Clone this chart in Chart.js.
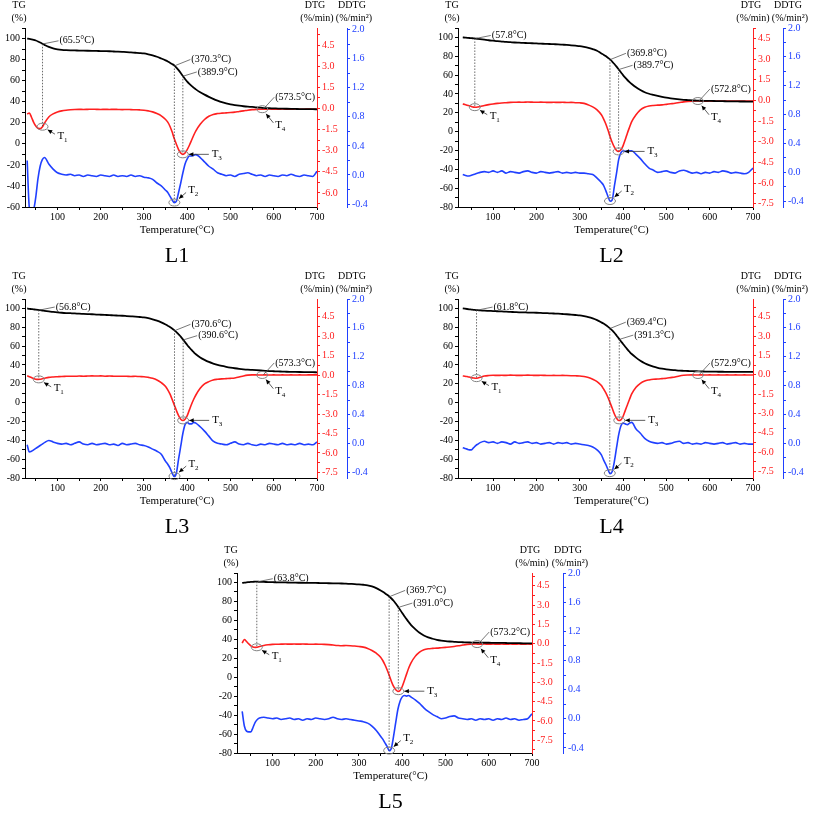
<!DOCTYPE html>
<html>
<head>
<meta charset="utf-8">
<script src="https://cdn.jsdelivr.net/npm/chart.js@4.4.0/dist/chart.umd.min.js"></script>
<style>
  body { margin: 0; background: #fff; }
  #page { position: relative; width: 813px; height: 814px; overflow: hidden; }
  #page canvas { position: absolute; }
</style>
</head>
<body>
<div id="page"></div>
<script>
// shared temperature grid (°C)
const temps = [
  30, 35, 40, 45, 50, 55, 60, 65, 70,
  80, 90, 100, 110, 120, 130, 140, 150, 160, 170, 180, 190, 200, 210,
  220, 230, 240, 250, 260, 270, 280, 290, 300, 310, 320, 330, 340,
  350, 355, 360, 365, 370, 375, 380, 385, 390, 395, 400, 405, 410, 415, 420,
  430, 440, 450, 460, 470, 480, 490, 500, 510, 520, 530, 540, 550, 560,
  570, 580, 590, 600, 610, 620, 630, 640, 650, 660, 670, 680, 690, 700,
];

// L1
const tgL1 = [
  100, 99.7, 99.3, 98.8, 98.1, 97.2, 96.2, 95.1, 94.0,
  92.0, 90.6, 89.8, 89.3, 89.0, 88.8, 88.7, 88.6, 88.5, 88.4, 88.3, 88.2, 88.1, 88.0,
  87.9, 87.7, 87.5, 87.3, 87.1, 86.8, 86.5, 86.2, 85.8, 85.0, 84.0, 82.7, 81.0,
  79.2, 78.2, 77.0, 75.8, 74.5, 72.4, 70.0, 67.3, 64.4, 61.6, 59.0, 56.9, 55.0, 53.3, 51.7,
  49.0, 46.7, 44.6, 42.7, 41.0, 39.5, 38.4, 37.5, 36.8, 36.2, 35.7, 35.3, 35.0, 34.6,
  34.3, 34.0, 33.8, 33.7, 33.5, 33.4, 33.3, 33.2, 33.1, 33.0, 33.0, 32.9, 32.9, 32.8,
];
const dtgL1 = [
  -0.4, -0.32, -0.62, -0.98, -1.25, -1.4, -1.43, -1.32, -1.05,
  -0.6, -0.38, -0.25, -0.17, -0.12, -0.09, -0.07, -0.06, -0.07, -0.06, -0.05, -0.06, -0.07, -0.06,
  -0.07, -0.06, -0.07, -0.08, -0.07, -0.08, -0.09, -0.1, -0.12, -0.17, -0.24, -0.36, -0.52,
  -0.78, -0.97, -1.26, -1.66, -2.14, -2.54, -2.92, -3.16, -3.26, -3.16, -2.92, -2.61, -2.26, -1.9, -1.59,
  -1.12, -0.78, -0.55, -0.42, -0.36, -0.33, -0.31, -0.29, -0.26, -0.21, -0.17, -0.12, -0.08, -0.06,
  -0.05, -0.05, -0.04, -0.05, -0.05, -0.04, -0.05, -0.05, -0.04, -0.05, -0.05, -0.04, -0.05, -0.05,
];
const ddtgL1 = [
  0.2, -0.45, -0.52, -0.48, -0.3, -0.05, 0.12, 0.21, 0.24,
  0.15, 0.08, 0.03, 0.01, 0.0, 0.01, -0.01, 0.0, -0.02, 0.0, -0.01, -0.02, 0.0, -0.01,
  -0.02, 0.0, -0.02, -0.01, -0.02, 0.0, -0.02, -0.01, -0.03, -0.04, -0.06, -0.11, -0.15,
  -0.21, -0.24, -0.29, -0.34, -0.38, -0.36, -0.24, -0.11, 0.03, 0.15, 0.22, 0.26, 0.26, 0.27, 0.28,
  0.24, 0.18, 0.12, 0.08, 0.03, 0.01, -0.01, 0.0, -0.02, 0.01, 0.02, 0.03, 0.01, -0.01,
  0.0, -0.02, 0.0, -0.01, -0.02, 0.0, -0.01, 0.01, -0.01, -0.02, 0.0, -0.01, -0.02, 0.05,
];
const marksL1 = [65.5, 370.3, 389.9, 573.5];

// L2
const tgL2 = [
  100, 99.8, 99.6, 99.4, 99.2, 99.0, 98.8, 98.5, 98.2,
  97.6, 97.0, 96.5, 96.0, 95.6, 95.2, 94.9, 94.6, 94.4, 94.2, 94.0, 93.8, 93.6, 93.4,
  93.2, 93.0, 92.8, 92.6, 92.3, 92.0, 91.6, 91.2, 90.8, 90.0, 89.0, 87.6, 85.9,
  83.0, 81.7, 80.2, 78.5, 76.7, 74.3, 71.8, 69.0, 66.0, 63.0, 60.0, 57.3, 54.8, 52.6, 50.6,
  47.0, 44.2, 41.8, 40.2, 39.0, 37.9, 36.9, 36.0, 35.3, 34.7, 34.2, 33.8, 33.5, 33.2,
  33.0, 32.8, 32.7, 32.6, 32.5, 32.4, 32.3, 32.2, 32.1, 32.1, 32.0, 32.0, 31.9, 31.9,
];
const dtgL2 = [
  -0.26, -0.3, -0.35, -0.4, -0.45, -0.49, -0.5, -0.48, -0.45,
  -0.37, -0.31, -0.26, -0.22, -0.19, -0.17, -0.15, -0.14, -0.13, -0.14, -0.12, -0.13, -0.14, -0.13,
  -0.14, -0.15, -0.14, -0.15, -0.14, -0.16, -0.15, -0.17, -0.18, -0.22, -0.33, -0.47, -0.69,
  -1.05, -1.34, -1.7, -2.14, -2.62, -3.06, -3.4, -3.64, -3.71, -3.59, -3.3, -2.86, -2.38, -1.95, -1.54,
  -1.05, -0.69, -0.5, -0.41, -0.37, -0.35, -0.33, -0.29, -0.25, -0.21, -0.16, -0.11, -0.08, -0.06,
  -0.05, -0.05, -0.06, -0.05, -0.06, -0.05, -0.06, -0.05, -0.06, -0.05, -0.05, -0.06, -0.05, -0.05,
];
const ddtgL2 = [
  -0.03, -0.04, -0.05, -0.05, -0.04, -0.03, -0.02, -0.01, 0.0,
  0.01, 0.0, 0.02, 0.0, 0.02, -0.01, 0.01, 0.0, -0.01, 0.01, 0.02, 0.0, -0.01, 0.01,
  0.0, -0.01, 0.0, 0.01, -0.01, 0.0, -0.01, 0.0, -0.01, -0.01, -0.02, -0.03, -0.08,
  -0.14, -0.18, -0.25, -0.33, -0.4, -0.38, -0.19, -0.01, 0.18, 0.27, 0.3, 0.29, 0.29, 0.3, 0.3,
  0.25, 0.19, 0.12, 0.06, 0.03, 0.0, 0.01, 0.02, 0.0, -0.01, 0.02, 0.03, 0.01, -0.01,
  0.0, -0.02, 0.0, -0.01, 0.01, 0.0, 0.02, 0.01, -0.01, 0.0, -0.01, -0.02, 0.0, 0.06,
];
const marksL2 = [57.8, 369.8, 389.7, 572.8];

// L3
const tgL3 = [
  100, 99.6, 99.3, 99.0, 98.7, 98.4, 98.1, 97.8, 97.5,
  96.9, 96.3, 95.8, 95.4, 95.1, 94.9, 94.7, 94.4, 94.2, 94.0, 93.8, 93.5, 93.3, 93.1,
  92.9, 92.6, 92.4, 92.2, 91.9, 91.6, 91.3, 90.9, 90.5, 89.6, 88.4, 87.0, 85.2,
  83.0, 81.7, 80.2, 78.7, 77.0, 74.9, 72.5, 70.0, 67.2, 64.2, 61.2, 58.5, 55.9, 53.5, 51.3,
  48.0, 45.4, 43.2, 41.5, 40.0, 38.9, 38.0, 37.2, 36.5, 35.9, 35.4, 35.0, 34.7, 34.4,
  34.1, 33.8, 33.5, 33.3, 33.1, 33.0, 32.8, 32.7, 32.6, 32.5, 32.4, 32.3, 32.3, 32.2,
];
const dtgL3 = [
  -0.05, -0.12, -0.19, -0.26, -0.31, -0.33, -0.32, -0.28, -0.24,
  -0.17, -0.14, -0.12, -0.1, -0.09, -0.08, -0.09, -0.07, -0.08, -0.07, -0.06, -0.07, -0.06, -0.08,
  -0.07, -0.08, -0.09, -0.08, -0.09, -0.1, -0.09, -0.11, -0.12, -0.17, -0.24, -0.37, -0.58,
  -0.88, -1.14, -1.45, -1.86, -2.29, -2.73, -3.12, -3.4, -3.5, -3.4, -3.12, -2.68, -2.24, -1.86, -1.53,
  -1.01, -0.68, -0.5, -0.37, -0.32, -0.29, -0.27, -0.25, -0.22, -0.15, -0.06, 0.0, 0.02, 0.02,
  0.01, 0.02, 0.01, 0.02, 0.01, 0.02, 0.01, 0.02, 0.01, 0.02, 0.01, 0.02, 0.02, 0.02,
];
const ddtgL3 = [
  -0.02, -0.12, -0.11, -0.09, -0.07, -0.05, -0.03, -0.01, 0.01,
  0.04, 0.02, 0.0, -0.01, 0.0, -0.02, 0.0, 0.02, -0.01, -0.02, 0.0, -0.02, -0.01, 0.0,
  -0.02, -0.01, -0.03, 0.0, -0.02, -0.01, 0.0, -0.02, -0.03, -0.05, -0.08, -0.11, -0.15,
  -0.25, -0.29, -0.34, -0.41, -0.46, -0.41, -0.22, -0.04, 0.14, 0.26, 0.29, 0.27, 0.27, 0.29, 0.28,
  0.23, 0.17, 0.1, 0.03, 0.0, -0.01, -0.02, 0.0, 0.02, -0.01, -0.02, 0.0, -0.02, -0.03,
  -0.01, -0.02, 0.0, -0.01, -0.02, 0.0, -0.02, -0.01, -0.02, 0.0, -0.02, -0.01, -0.02, 0.02,
];
const marksL3 = [56.8, 370.6, 390.6, 573.3];

// L4
const tgL4 = [
  100, 99.7, 99.4, 99.1, 98.8, 98.5, 98.3, 98.1, 97.9,
  97.6, 97.4, 97.2, 97.0, 96.8, 96.5, 96.3, 96.1, 95.9, 95.8, 95.6, 95.5, 95.4, 95.2,
  95.0, 94.8, 94.6, 94.4, 94.1, 93.8, 93.4, 93.0, 92.6, 91.8, 90.8, 89.4, 87.6,
  85.2, 83.9, 82.4, 80.7, 78.8, 76.6, 74.2, 71.3, 68.2, 65.2, 62.2, 59.3, 56.6, 54.0, 51.6,
  47.8, 44.5, 41.8, 39.8, 38.2, 37.0, 36.1, 35.4, 34.8, 34.4, 34.0, 33.8, 33.6, 33.4,
  33.3, 33.1, 33.0, 32.9, 32.9, 32.8, 32.8, 32.7, 32.7, 32.7, 32.6, 32.6, 32.6, 32.6,
];
const dtgL4 = [
  -0.09, -0.11, -0.14, -0.18, -0.22, -0.25, -0.27, -0.25, -0.2,
  -0.1, -0.06, -0.04, -0.05, -0.04, -0.05, -0.03, -0.04, -0.05, -0.04, -0.03, -0.04, -0.05, -0.04,
  -0.05, -0.06, -0.05, -0.06, -0.05, -0.06, -0.07, -0.08, -0.09, -0.14, -0.22, -0.35, -0.53,
  -0.84, -1.1, -1.38, -1.74, -2.16, -2.6, -3.04, -3.37, -3.55, -3.5, -3.24, -2.78, -2.34, -1.9, -1.49,
  -0.97, -0.66, -0.48, -0.4, -0.35, -0.33, -0.3, -0.27, -0.22, -0.17, -0.09, -0.04, -0.02, -0.01,
  -0.02, -0.01, -0.02, -0.01, -0.02, -0.01, -0.02, -0.01, -0.02, -0.01, -0.02, -0.01, -0.02, -0.02,
];
const ddtgL4 = [
  -0.06, -0.07, -0.08, -0.09, -0.09, -0.06, -0.03, -0.01, 0.01,
  0.03, 0.01, 0.02, 0.0, 0.02, 0.01, -0.01, 0.02, 0.0, 0.01, 0.02, 0.0, 0.01, -0.01,
  0.0, 0.01, -0.01, 0.01, 0.0, 0.01, -0.01, 0.0, -0.01, -0.02, -0.03, -0.05, -0.09,
  -0.16, -0.23, -0.29, -0.36, -0.42, -0.39, -0.25, -0.06, 0.12, 0.24, 0.28, 0.27, 0.26, 0.28, 0.29,
  0.2, 0.14, 0.07, 0.03, 0.01, 0.0, 0.01, -0.01, 0.0, 0.02, 0.03, 0.0, 0.01, -0.01,
  0.0, -0.01, 0.01, 0.0, -0.01, 0.0, 0.01, -0.01, 0.0, 0.01, -0.01, 0.0, -0.01, -0.01,
];
const marksL4 = [61.8, 369.4, 391.3, 572.9];

// L5
const tgL5 = [
  99.5, 99.9, 100.2, 100.4, 100.6, 100.7, 100.8, 100.8, 100.7,
  100.6, 100.4, 100.3, 100.2, 100.1, 100.0, 99.9, 99.8, 99.7, 99.7, 99.6, 99.5, 99.5, 99.4,
  99.3, 99.2, 99.1, 99.0, 98.9, 98.7, 98.5, 98.3, 98.0, 97.6, 97.0, 95.8, 94.0,
  91.6, 90.2, 88.7, 87.0, 85.2, 83.1, 80.7, 77.8, 74.7, 71.2, 67.7, 64.4, 61.3, 58.2, 55.3,
  50.8, 46.9, 44.1, 42.0, 40.6, 39.5, 38.7, 38.1, 37.7, 37.4, 37.1, 36.9, 36.7, 36.6,
  36.5, 36.5, 36.4, 36.4, 36.3, 36.2, 36.2, 36.1, 36.0, 36.0, 35.9, 35.8, 35.8, 35.7,
];
const dtgL5 = [
  0.05, 0.33, 0.18, 0.0, -0.16, -0.26, -0.28, -0.27, -0.21,
  -0.13, -0.08, -0.05, -0.04, -0.03, -0.02, -0.03, -0.02, -0.03, -0.02, -0.03, -0.04, -0.03, -0.04,
  -0.05, -0.07, -0.1, -0.13, -0.15, -0.14, -0.15, -0.17, -0.21, -0.26, -0.36, -0.52, -0.73,
  -1.04, -1.3, -1.63, -2.02, -2.46, -2.93, -3.32, -3.58, -3.7, -3.63, -3.32, -2.85, -2.36, -1.89, -1.5,
  -0.98, -0.65, -0.47, -0.39, -0.36, -0.34, -0.31, -0.28, -0.25, -0.21, -0.16, -0.1, -0.05, -0.03,
  -0.02, -0.03, -0.02, -0.03, -0.02, -0.03, -0.02, -0.03, -0.02, -0.03, -0.02, -0.03, -0.02, -0.03,
];
const ddtgL5 = [
  0.1, -0.1, -0.17, -0.18, -0.18, -0.12, -0.05, -0.01, 0.01,
  0.02, 0.01, 0.0, 0.01, -0.01, 0.0, 0.01, -0.01, 0.0, -0.02, 0.0, -0.01, 0.01, 0.0,
  -0.01, 0.0, 0.02, 0.0, -0.01, 0.0, -0.01, -0.02, -0.03, -0.04, -0.06, -0.1, -0.16,
  -0.24, -0.28, -0.33, -0.38, -0.44, -0.4, -0.24, -0.05, 0.13, 0.24, 0.3, 0.32, 0.31, 0.32, 0.3,
  0.26, 0.21, 0.15, 0.1, 0.06, 0.03, 0.0, 0.01, 0.03, 0.04, 0.01, 0.0, -0.01, 0.0,
  -0.02, 0.0, -0.01, 0.0, -0.02, 0.0, -0.01, 0.01, -0.01, 0.0, -0.02, -0.01, 0.0, 0.07,
];
const marksL5 = [63.8, 369.7, 391.0, 573.2];

const FONT = "'Liberation Serif', 'Times New Roman', serif";
const RED = "#ff2020";
const BLUE = "#2040ff";

// where each label sits relative to its anchor (px)
const TEMP_OFFSETS = [[17, -3], [17, -6], [15, -4], [13, -12]];
const TAG_OFFSETS = [[15, 9], [14, -12], [29, 0], [13, 16]];

const panels = [
  { name: "L1", tg: tgL1, dtg: dtgL1, ddtg: ddtgL1, marks: marksL1,
    box: [0, 0, 400, 270], plot: [25, 28, 317, 207], ddtgX: 347, xMin: 25,
    tgRange: [-60, 110], dtgRange: [-7.0, 5.72], ddtgRange: [-0.44, 2.02] },
  { name: "L2", tg: tgL2, dtg: dtgL2, ddtg: ddtgL2, marks: marksL2,
    box: [405, 0, 408, 270], plot: [458, 28, 753, 207], ddtgX: 783, xMin: 19,
    tgRange: [-80, 110], dtgRange: [-7.74, 5.25], ddtgRange: [-0.48, 2.0] },
  { name: "L3", tg: tgL3, dtg: dtgL3, ddtg: ddtgL3, marks: marksL3,
    box: [0, 270, 400, 270], plot: [25, 299, 317, 478], ddtgX: 347, xMin: 25,
    tgRange: [-80, 110], dtgRange: [-7.93, 5.87], ddtgRange: [-0.48, 2.0] },
  { name: "L4", tg: tgL4, dtg: dtgL4, ddtg: ddtgL4, marks: marksL4,
    box: [405, 270, 408, 270], plot: [458, 299, 753, 478], ddtgX: 783, xMin: 19,
    tgRange: [-80, 110], dtgRange: [-8.01, 5.88], ddtgRange: [-0.48, 2.0] },
  { name: "L5", tg: tgL5, dtg: dtgL5, ddtg: ddtgL5, marks: marksL5,
    box: [200, 540, 410, 274], plot: [237, 573, 532, 753], ddtgX: 563, xMin: 18,
    tgRange: [-80, 110], dtgRange: [-8.49, 5.5], ddtgRange: [-0.47, 2.0] },
];

function multipleOf(v, step) {
  const r = v / step;
  return Math.abs(r - Math.round(r)) < 1e-6;
}

function interp(series, t) {
  for (let i = 1; i < temps.length; i++) {
    if (t <= temps[i]) {
      const f = (t - temps[i - 1]) / (temps[i] - temps[i - 1]);
      return series[i - 1] + f * (series[i] - series[i - 1]);
    }
  }
  return series[series.length - 1];
}

function yAxis(position, color, range, minor, major, digits, width, labelMax, weight) {
  return {
    type: "linear",
    position,
    weight,
    min: range[0],
    max: range[1],
    afterFit: (s) => { s.width = width; },
    border: { color, width: 1 },
    grid: { drawOnChartArea: false, color, tickLength: 3 },
    ticks: {
      stepSize: minor,
      includeBounds: false,
      autoSkip: false,
      color,
      padding: 2,
      font: { family: FONT, size: 10 },
      callback: (v) => (multipleOf(v, major) && v <= labelMax + 1e-9 ? v.toFixed(digits) : ""),
    },
  };
}

function arrow(ctx, x0, y0, x1, y1) {
  const a = Math.atan2(y1 - y0, x1 - x0);
  ctx.beginPath();
  ctx.moveTo(x0, y0);
  ctx.lineTo(x1, y1);
  ctx.stroke();
  ctx.beginPath();
  ctx.moveTo(x1, y1);
  ctx.lineTo(x1 - 5 * Math.cos(a - 0.45), y1 - 5 * Math.sin(a - 0.45));
  ctx.lineTo(x1 - 5 * Math.cos(a + 0.45), y1 - 5 * Math.sin(a + 0.45));
  ctx.closePath();
  ctx.fill();
}

function markerPlugin(p) {
  return {
    id: "thermoMarks",
    afterDraw(chart) {
      const { ctx, chartArea: ca, scales } = chart;
      const xs = scales.x;
      const tgS = scales.y;
      const dtgS = scales.y1;
      const ddtgS = scales.y2;
      ctx.save();

      const tgPts = p.marks.map((t) => [xs.getPixelForValue(t), tgS.getPixelForValue(interp(p.tg, t))]);
      const rings = p.marks.map((t, i) => [
        xs.getPixelForValue(t),
        i === 1 ? ddtgS.getPixelForValue(interp(p.ddtg, t)) : dtgS.getPixelForValue(interp(p.dtg, t)),
      ]);

      // dotted drop lines
      ctx.strokeStyle = "#444";
      ctx.lineWidth = 0.8;
      ctx.setLineDash([1.5, 1.5]);
      for (let i = 0; i < 3; i++) {
        ctx.beginPath();
        ctx.moveTo(tgPts[i][0], tgPts[i][1]);
        ctx.lineTo(rings[i][0], rings[i][1]);
        ctx.stroke();
      }
      ctx.setLineDash([]);

      // rings
      ctx.strokeStyle = "#808080";
      ctx.lineWidth = 1;
      rings.forEach(([rx, ry]) => {
        ctx.beginPath();
        ctx.ellipse(rx, ry, 5.5, 3.5, 0, 0, Math.PI * 2);
        ctx.stroke();
      });

      // temperature labels with leader lines
      ctx.font = `10px ${FONT}`;
      ctx.fillStyle = "#000";
      ctx.textBaseline = "middle";
      ctx.textAlign = "left";
      p.marks.forEach((t, i) => {
        const [ax, ay] = i < 3 ? tgPts[i] : rings[i];
        const [dx, dy] = TEMP_OFFSETS[i];
        ctx.strokeStyle = "#555";
        ctx.lineWidth = 0.8;
        ctx.beginPath();
        ctx.moveTo(ax + 1, ay);
        ctx.lineTo(ax + dx - 1, ay + dy);
        ctx.stroke();
        ctx.fillText(`(${t.toFixed(1)}°C)`, ax + dx, ay + dy);
      });

      // T1..T4 tags with arrows
      ctx.strokeStyle = "#333";
      ctx.fillStyle = "#000";
      ctx.lineWidth = 0.8;
      rings.forEach(([rx, ry], i) => {
        const [dx, dy] = TAG_OFFSETS[i];
        const len = Math.hypot(dx, dy);
        const ux = dx / len;
        const uy = dy / len;
        arrow(ctx, rx + ux * (len - 3), ry + uy * (len - 3), rx + ux * 6, ry + uy * 6);
        ctx.font = `11px ${FONT}`;
        ctx.fillText("T", rx + dx, ry + dy);
        ctx.font = `7px ${FONT}`;
        ctx.fillText(String(i + 1), rx + dx + 6.5, ry + dy + 4);
      });

      // axis headers
      ctx.textAlign = "center";
      ctx.font = `10px ${FONT}`;
      ctx.fillText("TG", ca.left - 6, ca.top - 23);
      ctx.fillText("(%)", ca.left - 6, ca.top - 10);
      ctx.fillText("DTG", ca.right - 2, ca.top - 23);
      ctx.fillText("(%/min)", ca.right, ca.top - 10);
      ctx.fillText("DDTG", ddtgS.left + 5, ca.top - 23);
      ctx.fillText("(%/min²)", ddtgS.left + 7, ca.top - 10);

      const mid = (ca.left + ca.right) / 2 + 6;
      ctx.font = `11px ${FONT}`;
      ctx.fillText("Temperature(°C)", mid, ca.bottom + 23);
      ctx.font = `22px ${FONT}`;
      ctx.fillText(p.name, mid, ca.bottom + 49);
      ctx.restore();
    },
  };
}

function toPoints(series) {
  return temps.map((t, i) => ({ x: t, y: series[i] }));
}

function buildChart(p) {
  const [bx, by, bw, bh] = p.box;
  const [pl, pt, pr, pb] = p.plot;
  const canvas = document.createElement("canvas");
  canvas.width = bw;
  canvas.height = bh;
  canvas.style.left = bx + "px";
  canvas.style.top = by + "px";
  canvas.style.width = bw + "px";
  canvas.style.height = bh + "px";
  document.getElementById("page").appendChild(canvas);

  new Chart(canvas.getContext("2d"), {
    type: "line",
    data: {
      datasets: [
        { label: "TG", data: toPoints(p.tg), yAxisID: "y", borderColor: "#000", borderWidth: 1.8 },
        { label: "DTG", data: toPoints(p.dtg), yAxisID: "y1", borderColor: RED, borderWidth: 1.6 },
        { label: "DDTG", data: toPoints(p.ddtg), yAxisID: "y2", borderColor: BLUE, borderWidth: 1.6 },
      ],
    },
    options: {
      responsive: false,
      animation: false,
      devicePixelRatio: 1,
      events: [],
      layout: { padding: { top: pt - by, left: 0, right: 0, bottom: 0 } },
      plugins: { legend: { display: false }, tooltip: { enabled: false } },
      elements: {
        point: { radius: 0 },
        line: { cubicInterpolationMode: "monotone", fill: false },
      },
      scales: {
        x: {
          type: "linear",
          min: p.xMin,
          max: 700,
          afterFit: (s) => { s.height = bh - (pb - by); },
          border: { color: "#000", width: 1 },
          grid: { drawOnChartArea: false, color: "#000", tickLength: 3 },
          ticks: {
            stepSize: 50,
            includeBounds: false,
            autoSkip: false,
            maxRotation: 0,
            color: "#000",
            padding: 1,
            font: { family: FONT, size: 10 },
            callback: (v) => (multipleOf(v, 100) ? String(v) : ""),
          },
        },
        y: yAxis("left", "#000", p.tgRange, 10, 20, 0, pl - bx, 100, 0),
        y1: yAxis("right", RED, p.dtgRange, 0.75, 1.5, 1, p.ddtgX - pr, 4.5, 0),
        y2: yAxis("right", BLUE, p.ddtgRange, 0.2, 0.4, 1, bx + bw - p.ddtgX, 2.0, 1),
      },
    },
    plugins: [markerPlugin(p)],
  });
}

panels.forEach(buildChart);
</script>
</body>
</html>
